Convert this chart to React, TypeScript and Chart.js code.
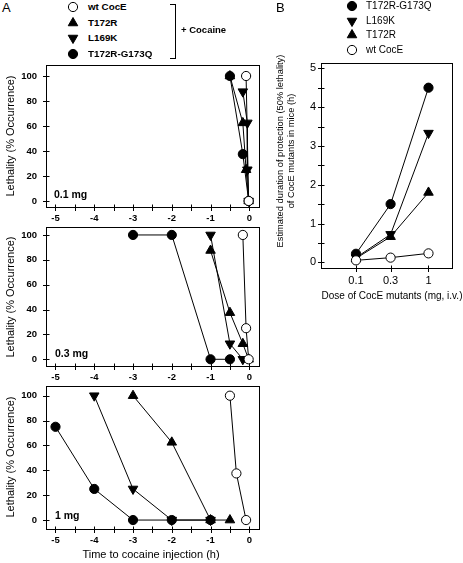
import React, { useEffect, useRef } from 'react';
import { Chart, registerables } from 'chart.js';
Chart.register(...registerables);

const FONT = '"Liberation Sans", Arial, Helvetica, sans-serif';

// ---------- Panel A data: time before cocaine (h) / lethality (%) ----------
const seriesNames = ['wt CocE', 'T172R', 'L169K', 'T172R-G173Q'];

// 0.1 mg
const a01WtT = [-0.083, -0.017];
const a01WtY = [100, 0];
const a01T172RT = [-0.5, -0.167, -0.083, -0.017];
const a01T172RY = [100, 62.5, 25, 0];
const a01L169KT = [-0.167, -0.05, -0.05, -0.017];
const a01L169KY = [87.5, 62.5, 25, 0];
const a01DblT = [-0.5, -0.167, -0.017];
const a01DblY = [100, 37.5, 0];

// 0.3 mg
const a03WtT = [-0.167, -0.083, -0.017];
const a03WtY = [100, 25, 0];
const a03T172RT = [-1, -0.5, -0.167, -0.017];
const a03T172RY = [87.5, 37.5, 12.5, 0];
const a03L169KT = [-1, -0.5, -0.167];
const a03L169KY = [100, 12.5, 0];
const a03DblT = [-3, -2, -1, -0.5];
const a03DblY = [100, 100, 0, 0];

// 1 mg
const a1WtT = [-0.5, -0.333, -0.083];
const a1WtY = [100, 37.5, 0];
const a1T172RT = [-3, -2, -1, -0.5];
const a1T172RY = [100, 62.5, 0, 0];
const a1L169KT = [-4, -3, -2, -1];
const a1L169KY = [100, 25, 0, 0];
const a1DblT = [-5, -4, -3, -2, -1];
const a1DblY = [75, 25, 0, 0, 0];

const timeTicks = [-5, -4.5, -4, -3.5, -3, -2.5, -2, -1.5, -1, -0.5, 0];
const lethalityTicks = [0, 20, 40, 60, 80, 100];

// ---------- Panel B data: dose (mg) / protection duration (h) ----------
const doses = [0.1, 0.3, 1];
const bDbl = [0.22, 1.5, 4.5];
const bL169K = [0.12, 0.72, 3.33];
const bT172R = [0.1, 0.66, 1.8];
const bWt = [0.05, 0.12, 0.23];
const durationTicks = [0, 0.5, 1, 1.5, 2, 2.5, 3, 3.5, 4, 4.5, 5];

// ---------- styles ----------
type Kind = 'open' | 'up' | 'down' | 'filled';
const kindOf: Record<string, Kind> = {
  'wt CocE': 'open',
  T172R: 'up',
  L169K: 'down',
  'T172R-G173Q': 'filled',
};

function ds(name: string, xs: number[], ys: number[]) {
  const k = kindOf[name];
  const tri = k === 'up' || k === 'down';
  return {
    label: name,
    data: xs.map((x, i) => ({ x, y: ys[i] })),
    showLine: true,
    borderColor: '#000',
    borderWidth: 1,
    backgroundColor: k === 'open' ? '#fff' : '#000',
    pointStyle: tri ? 'triangle' : 'circle',
    rotation: k === 'down' ? 180 : 0,
    pointRadius: tri ? 5.5 : 4.6,
    pointBorderWidth: 1,
    pointBorderColor: '#000',
    pointBackgroundColor: k === 'open' ? '#fff' : '#000',
    clip: false as any,
  };
}

const framePlugin = {
  id: 'frameTicks',
  beforeDatasetsDraw(chart: any) {
    const { ctx, chartArea: a, scales } = chart;
    ctx.save();
    ctx.strokeStyle = '#000';
    ctx.lineWidth = 1;
    const L = Math.floor(a.left) + 0.5;
    const R = Math.floor(a.right) + 0.5;
    const T = Math.floor(a.top) + 0.5;
    const B = Math.floor(a.bottom) + 0.5;
    ctx.strokeRect(L, T, R - L, B - T);
    ctx.beginPath();
    const xs = scales.x;
    xs.ticks.forEach((t: any) => {
      const p = Math.round(xs.getPixelForValue(t.value)) + 0.5;
      ctx.moveTo(p, B - 3);
      ctx.lineTo(p, B + 3.5);
    });
    const ys = scales.y;
    ys.ticks.forEach((t: any) => {
      const p = Math.round(ys.getPixelForValue(t.value)) + 0.5;
      ctx.moveTo(L - 3.5, p);
      ctx.lineTo(L + 3, p);
    });
    ctx.stroke();
    ctx.restore();
  },
};

function zeroPad(s: any) {
  s.paddingLeft = 0;
  s.paddingRight = 0;
  s.paddingTop = 0;
  s.paddingBottom = 0;
}

function baseConfig(opts: {
  datasets: any[];
  xType: 'linear' | 'logarithmic';
  xMin: number;
  xMax: number;
  xTicks: number[];
  xLabel: (v: number) => string;
  xFont: any;
  xPad: number;
  xHeight: number;
  yMin: number;
  yMax: number;
  yTicks: number[];
  yLabel: (v: number) => string;
  yFont: any;
  yPad: number;
  yWidth: number;
  padTop: number;
  padRight: number;
}): any {
  return {
    type: 'scatter',
    data: { datasets: opts.datasets },
    plugins: [framePlugin],
    options: {
      animation: false,
      responsive: false,
      devicePixelRatio: 1,
      events: [],
      layout: { padding: { left: 0, right: opts.padRight, top: opts.padTop, bottom: 0 } },
      plugins: { legend: { display: false }, tooltip: { enabled: false }, title: { display: false } },
      scales: {
        x: {
          type: opts.xType,
          min: opts.xMin,
          max: opts.xMax,
          bounds: 'data',
          grid: { display: false, drawTicks: false },
          border: { display: false },
          afterBuildTicks: (s: any) => {
            s.ticks = opts.xTicks.map((v) => ({ value: v }));
          },
          afterFit: (s: any) => {
            s.height = opts.xHeight;
            zeroPad(s);
          },
          ticks: {
            autoSkip: false,
            maxRotation: 0,
            minRotation: 0,
            padding: opts.xPad,
            color: '#000',
            font: opts.xFont,
            callback: (v: any) => opts.xLabel(Number(v)),
          },
        },
        y: {
          type: 'linear',
          min: opts.yMin,
          max: opts.yMax,
          bounds: 'data',
          grid: { display: false, drawTicks: false },
          border: { display: false },
          afterBuildTicks: (s: any) => {
            s.ticks = opts.yTicks.map((v) => ({ value: v }));
          },
          afterFit: (s: any) => {
            s.width = opts.yWidth;
            zeroPad(s);
          },
          ticks: {
            autoSkip: false,
            padding: opts.yPad,
            color: '#000',
            font: opts.yFont,
            callback: (v: any) => opts.yLabel(Number(v)),
          },
        },
      },
    },
  };
}

const tickFontA = { family: FONT, size: 9.5, weight: 'bold' };
const tickFontB = { family: FONT, size: 11, weight: 'normal' };

function panelAConfig(sets: any[], yMin: number, yMax: number, xHeight: number) {
  return baseConfig({
    datasets: sets,
    xType: 'linear',
    xMin: -5.245,
    xMax: 0.25,
    xTicks: timeTicks,
    xLabel: (v) => (Number.isInteger(v) ? String(v === 0 ? 0 : v) : ''),
    xFont: tickFontA,
    xPad: 6,
    xHeight,
    yMin,
    yMax,
    yTicks: lethalityTicks,
    yLabel: (v) => String(v),
    yFont: tickFontA,
    yPad: 9,
    yWidth: 46,
    padTop: 7,
    padRight: 11,
  });
}

const doseLabels: Record<string, string> = { '0.1': '0.1', '0.3': '0.3', '1': '1' };

function panelBConfig() {
  return baseConfig({
    datasets: [
      ds(seriesNames[0], doses, bWt),
      ds(seriesNames[1], doses, bT172R),
      ds(seriesNames[2], doses, bL169K),
      ds(seriesNames[3], doses, bDbl),
    ],
    xType: 'logarithmic',
    xMin: 0.0329,
    xMax: 2.11,
    xTicks: doses,
    xLabel: (v) => doseLabels[String(v)] ?? '',
    xFont: tickFontB,
    xPad: 6,
    xHeight: 32,
    yMin: -0.147,
    yMax: 5.137,
    yTicks: durationTicks,
    yLabel: (v) => (Number.isInteger(v) ? String(v) : ''),
    yFont: tickFontB,
    yPad: 5,
    yWidth: 51,
    padTop: 8,
    padRight: 11,
  });
}

function ChartBox(props: { left: number; top: number; width: number; height: number; make: () => any }) {
  const ref = useRef<HTMLCanvasElement>(null);
  useEffect(() => {
    const chart = new Chart(ref.current as HTMLCanvasElement, props.make());
    return () => chart.destroy();
  }, []);
  return (
    <canvas
      ref={ref}
      width={props.width}
      height={props.height}
      style={{ position: 'absolute', left: props.left, top: props.top, width: props.width, height: props.height }}
    />
  );
}

function Marker({ kind, x, y }: { kind: Kind; x: number; y: number }) {
  const c = 7;
  const r = 5.5;
  const dx = r * Math.sin((2 * Math.PI) / 3);
  let shape: any;
  if (kind === 'open') shape = <circle cx={c} cy={c} r={4.6} fill="#fff" stroke="#000" strokeWidth={1} />;
  else if (kind === 'filled') shape = <circle cx={c} cy={c} r={4.6} fill="#000" stroke="#000" strokeWidth={1} />;
  else if (kind === 'up')
    shape = <polygon points={`${c},${c - r} ${c + dx},${c + r / 2} ${c - dx},${c + r / 2}`} fill="#000" stroke="#000" />;
  else
    shape = <polygon points={`${c},${c + r} ${c + dx},${c - r / 2} ${c - dx},${c - r / 2}`} fill="#000" stroke="#000" />;
  return (
    <svg width={14} height={14} style={{ position: 'absolute', left: x - c, top: y - c, overflow: 'visible' }}>
      {shape}
    </svg>
  );
}

function Txt(props: { x: number; y: number; size: number; bold?: boolean; children: any; center?: boolean; rotate?: boolean }) {
  const transform = props.rotate
    ? 'translate(-50%, -50%) rotate(-90deg)'
    : props.center
    ? 'translate(-50%, -50%)'
    : 'translateY(-50%)';
  return (
    <div
      style={{
        position: 'absolute',
        left: props.x,
        top: props.y,
        transform,
        fontFamily: FONT,
        fontSize: props.size,
        fontWeight: props.bold ? 'bold' : 'normal',
        lineHeight: 1,
        whiteSpace: 'nowrap',
        color: '#000',
      }}
    >
      {props.children}
    </div>
  );
}

export default function App() {
  const legendA: [string, number][] = [
    [seriesNames[0], 7],
    [seriesNames[1], 22.5],
    [seriesNames[2], 38],
    [seriesNames[3], 54],
  ];
  const legendB: [string, number][] = [
    [seriesNames[3], 6],
    [seriesNames[2], 20.5],
    [seriesNames[1], 35],
    [seriesNames[0], 49.5],
  ];
  return (
    <div style={{ position: 'fixed', left: 0, top: 0, width: 463, height: 563, background: '#fff', overflow: 'hidden' }}>
      <ChartBox
        left={0}
        top={58}
        width={270}
        height={170}
        make={() =>
          panelAConfig(
            [
              ds(seriesNames[0], a01WtT, a01WtY),
              ds(seriesNames[1], a01T172RT, a01T172RY),
              ds(seriesNames[2], a01L169KT, a01L169KY),
              ds(seriesNames[3], a01DblT, a01DblY),
            ],
            -4.8,
            108.8,
            21
          )
        }
      />
      <ChartBox
        left={0}
        top={220}
        width={270}
        height={168}
        make={() =>
          panelAConfig(
            [
              ds(seriesNames[0], a03WtT, a03WtY),
              ds(seriesNames[1], a03T172RT, a03T172RY),
              ds(seriesNames[2], a03L169KT, a03L169KY),
              ds(seriesNames[3], a03DblT, a03DblY),
            ],
            -5.4,
            106.4,
            22
          )
        }
      />
      <ChartBox
        left={0}
        top={379}
        width={270}
        height={184}
        make={() =>
          panelAConfig(
            [
              ds(seriesNames[0], a1WtT, a1WtY),
              ds(seriesNames[1], a1T172RT, a1T172RY),
              ds(seriesNames[2], a1L169KT, a1L169KY),
              ds(seriesNames[3], a1DblT, a1DblY),
            ],
            -7.2,
            107.8,
            34
          )
        }
      />
      <ChartBox left={270} top={55} width={193} height={245} make={panelBConfig} />

      {/* Panel A labels */}
      <Txt x={2} y={7} size={13}>A</Txt>
      {legendA.map(([n, y]) => (
        <React.Fragment key={'la' + n}>
          <Marker kind={kindOf[n]} x={73} y={y} />
          <Txt x={88} y={y} size={9.8} bold>
            {n}
          </Txt>
        </React.Fragment>
      ))}
      <div
        style={{
          position: 'absolute',
          left: 170,
          top: 4,
          width: 5,
          height: 53,
          borderTop: '1px solid #000',
          borderRight: '1px solid #000',
          borderBottom: '1px solid #000',
        }}
      />
      <Txt x={181} y={29.5} size={9.5} bold>
        + Cocaine
      </Txt>
      <Txt x={54} y={194} size={10.5} bold>
        0.1 mg
      </Txt>
      <Txt x={55} y={353} size={10.5} bold>
        0.3 mg
      </Txt>
      <Txt x={55} y={515} size={10.5} bold>
        1 mg
      </Txt>
      <Txt x={10} y={136} size={11} rotate>
        Lethality (% Occurrence)
      </Txt>
      <Txt x={10} y={297} size={11} rotate>
        Lethality (% Occurrence)
      </Txt>
      <Txt x={10} y={457} size={11} rotate>
        Lethality (% Occurrence)
      </Txt>
      <Txt x={151} y={554} size={11} center>
        Time to cocaine injection (h)
      </Txt>

      {/* Panel B labels */}
      <Txt x={276} y={7} size={13}>B</Txt>
      {legendB.map(([n, y]) => (
        <React.Fragment key={'lb' + n}>
          <Marker kind={kindOf[n]} x={352} y={y} />
          <Txt x={366} y={y} size={10}>
            {n}
          </Txt>
        </React.Fragment>
      ))}
      <Txt x={281} y={151} size={9.3} rotate>
        Estimated duration of protection (50% lethality)
      </Txt>
      <Txt x={292} y={151} size={9.3} rotate>
        of CocE mutants in mice (h)
      </Txt>
      <Txt x={392} y={296} size={10} center>
        Dose of CocE mutants (mg, i.v.)
      </Txt>
    </div>
  );
}
